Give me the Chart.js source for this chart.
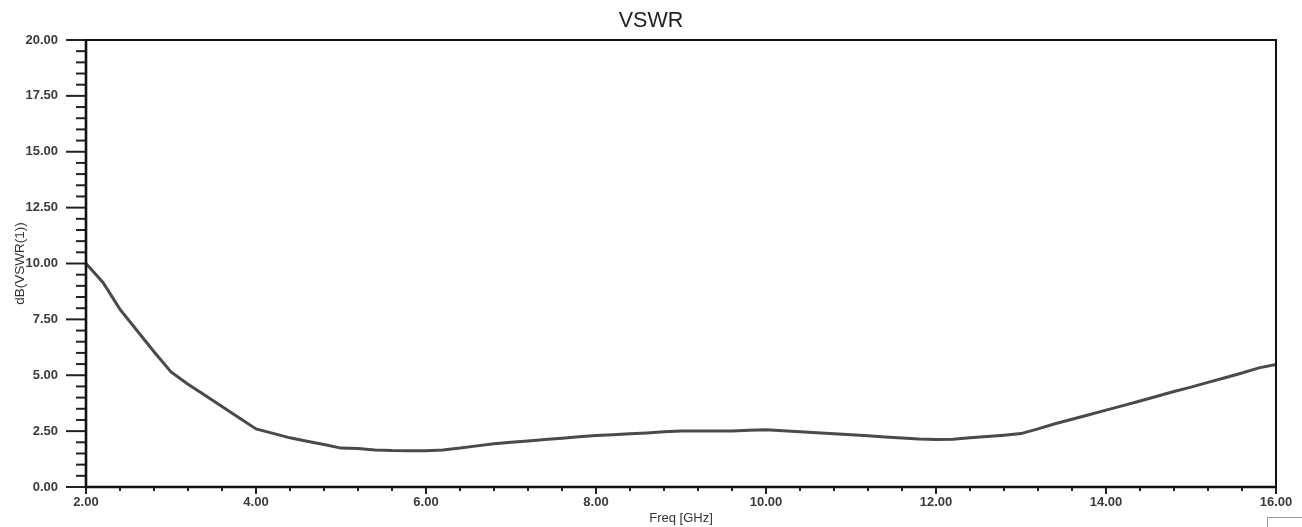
<!DOCTYPE html>
<html>
<head>
<meta charset="utf-8">
<title>VSWR</title>
<script src="https://cdn.jsdelivr.net/npm/chart.js@4"></script>
<style>
    html, body { margin: 0; padding: 0; background: #fff; }
    #wrap { width: 1302px; height: 527px; }
</style>
</head>
<body>
<div id="wrap"><canvas id="vswrChart" width="1302" height="527"></canvas></div>
<script>
// Data
const freqGHz = [
    2.0, 2.2, 2.4, 2.6, 2.8, 3.0, 3.2, 3.4, 3.6, 3.8,
    4.0, 4.2, 4.4, 4.6, 4.8, 5.0, 5.2, 5.4, 5.6, 5.8,
    6.0, 6.2, 6.4, 6.6, 6.8, 7.0, 7.2, 7.4, 7.6, 7.8,
    8.0, 8.2, 8.4, 8.6, 8.8, 9.0, 9.2, 9.4, 9.6, 9.8,
    10.0, 10.2, 10.4, 10.6, 10.8, 11.0, 11.2, 11.4, 11.6, 11.8,
    12.0, 12.2, 12.4, 12.6, 12.8, 13.0, 13.2, 13.4, 13.6, 13.8,
    14.0, 14.2, 14.4, 14.6, 14.8, 15.0, 15.2, 15.4, 15.6, 15.8,
    16.0
];
const vswrDb = [
    10.0, 9.15, 7.95, 7.0, 6.05, 5.15, 4.6, 4.1, 3.6, 3.1,
    2.6, 2.4, 2.2, 2.05, 1.9, 1.74, 1.72, 1.66, 1.63, 1.62,
    1.62, 1.66, 1.74, 1.84, 1.93, 2.0, 2.06, 2.12, 2.18, 2.25,
    2.3, 2.34, 2.38, 2.42, 2.47, 2.51, 2.51, 2.51, 2.51, 2.54,
    2.56, 2.52, 2.47, 2.43, 2.38, 2.34, 2.29, 2.24, 2.19, 2.15,
    2.13, 2.14, 2.2, 2.26, 2.32, 2.39, 2.6, 2.83, 3.03, 3.23,
    3.44, 3.64, 3.85, 4.06, 4.27, 4.47, 4.68, 4.89, 5.1, 5.33,
    5.48
];
const xMajorStep = 2;
const xMinorStep = 0.4;
const yMajorStep = 2.5;
const yMinorStep = 0.5;

function isMajor(v, step) {
    const r = v / step;
    return Math.abs(r - Math.round(r)) < 1e-6;
}

const points = freqGHz.map((f, i) => ({ x: f, y: vswrDb[i] }));

const tickFont = { family: 'Liberation Sans, Arial, sans-serif', size: 13, weight: 'bold' };

// Frame + tick marks drawn from the scales
const framePlugin = {
    id: 'frame',
    afterDraw(chart) {
        const { ctx, chartArea: a, scales } = chart;
        ctx.save();
        ctx.strokeStyle = '#222';
        ctx.lineWidth = 2;
        scales.x.ticks.forEach(t => {
            const px = scales.x.getPixelForValue(t.value);
            const len = isMajor(t.value, xMajorStep) ? 7 : 4;
            ctx.beginPath();
            ctx.moveTo(px, a.bottom);
            ctx.lineTo(px, a.bottom + len);
            ctx.stroke();
        });
        scales.y.ticks.forEach(t => {
            const py = scales.y.getPixelForValue(t.value);
            const len = isMajor(t.value, yMajorStep) ? 20 : 10;
            ctx.beginPath();
            ctx.moveTo(a.left - len, py);
            ctx.lineTo(a.left, py);
            ctx.stroke();
        });
        ctx.strokeStyle = '#111';
        ctx.lineWidth = 2;
        ctx.strokeRect(a.left, a.top, a.right - a.left, a.bottom - a.top);
        ctx.lineWidth = 2.6;
        ctx.beginPath();
        ctx.moveTo(a.left, a.top);
        ctx.lineTo(a.left, a.bottom);
        ctx.lineTo(a.right, a.bottom);
        ctx.stroke();
        // bit of a legend box peeking in at the lower right
        ctx.strokeStyle = '#999';
        ctx.lineWidth = 1;
        ctx.strokeRect(a.right - 8.5, a.bottom + 30.5, 60, 30);
        ctx.restore();
    }
};

const ctx = document.getElementById('vswrChart');
new Chart(ctx, {
    type: 'line',
    data: {
        datasets: [{
            label: 'dB(VSWR(1))',
            data: points,
            borderColor: '#4a4a4a',
            borderWidth: 3,
            pointRadius: 0,
            tension: 0,
            fill: false
        }]
    },
    options: {
        responsive: false,
        animation: false,
        layout: { padding: 0 },
        plugins: {
            legend: { display: false },
            tooltip: { enabled: false },
            title: {
                display: true,
                text: 'VSWR',
                color: '#222',
                font: { family: 'Liberation Sans, Arial, sans-serif', size: 21.5, weight: 'normal', lineHeight: 1.2 },
                padding: { top: 8, bottom: 6.2 }
            }
        },
        scales: {
            x: {
                type: 'linear',
                min: 2,
                max: 16,
                grid: { display: false, drawTicks: false },
                border: { display: false },
                ticks: {
                    stepSize: xMinorStep,
                    autoSkip: false,
                    maxRotation: 0,
                    padding: 8,
                    color: '#3a3a3a',
                    font: tickFont,
                    callback: v => isMajor(v, xMajorStep) ? v.toFixed(2) : ''
                },
                title: {
                    display: true,
                    text: 'Freq [GHz]',
                    color: '#333',
                    font: { family: 'Liberation Sans, Arial, sans-serif', size: 13 },
                    padding: { top: 0, bottom: 1 }
                },
                afterFit: s => { s.height = 40; s.paddingRight = 26; }
            },
            y: {
                type: 'linear',
                min: 0,
                max: 20,
                grid: { display: false, drawTicks: false },
                border: { display: false },
                ticks: {
                    stepSize: yMinorStep,
                    autoSkip: false,
                    padding: 28,
                    color: '#3a3a3a',
                    font: tickFont,
                    callback: v => isMajor(v, yMajorStep) ? v.toFixed(2) : ''
                },
                title: {
                    display: true,
                    text: 'dB(VSWR(1))',
                    color: '#333',
                    font: { family: 'Liberation Sans, Arial, sans-serif', size: 13.5 },
                    padding: { top: 12, bottom: 0 }
                },
                afterFit: s => { s.width = 86; }
            }
        }
    },
    plugins: [framePlugin]
});
</script>
</body>
</html>
